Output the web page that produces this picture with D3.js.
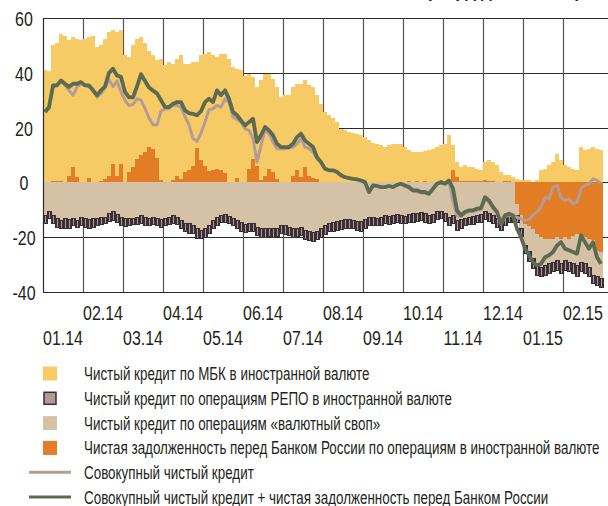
<!DOCTYPE html>
<html>
<head>
<meta charset="utf-8">
<script src="https://cdn.jsdelivr.net/npm/d3@7"></script>
<style>
  html, body { margin: 0; padding: 0; background: #fff; }
  svg { display: block; }
  text { font-family: "Liberation Sans", Arial, sans-serif; fill: #231f20; }
</style>
</head>
<body>
<div id="chart"></div>
<script>
// month labels (ten readings per month, Jan 2014 - Feb 2015)
const months = ["01.14", "02.14", "03.14", "04.14", "05.14", "06.14", "07.14",
                "08.14", "09.14", "10.14", "11.14", "12.14", "01.15", "02.15"];

// net interbank credit in foreign currency (yellow)
const mbk = [
  40.7, 40.2, 49.5, 50.5, 53.5, 53.3, 49.5, 47.5, 50.4, 51.8,
  52.1, 51.5, 53.3, 49.1, 49.5, 51.1, 52.5, 48.7, 52.5, 48.7,
  46.2, 41.9, 44.4, 43.8, 43.1, 40, 35.1, 34.1, 35.5, 44.3,
  42.5, 43.8, 42.6, 42.5, 45.1, 39.5, 38.9, 38, 31.5, 38.4,
  41, 43.6, 42, 40.7, 42.6, 43.5, 44.8, 41.8, 39.9, 41,
  39, 34.9, 29.8, 28.8, 36.2, 37.2, 34.7, 34, 33.5, 31,
  31.8, 31.8, 32.3, 31.6, 34, 31.6, 32.9, 33.2, 30.5, 28.5,
  25.7, 24.5, 23.5, 22, 19.6, 19, 18.4, 18.1, 17.8, 17.2,
  16.5, 15.3, 14.5, 14.1, 13.5, 12.9, 13.5, 14.1, 14.1, 14.1,
  12.6, 11.2, 10.7, 10.5, 10.7, 10.8, 11.4, 12.3, 12.9, 13.5,
  14.1, 17.2, 8.8, 5.4, 5.1, 5.7, 5.1, 5.1, 4.5, 3.9,
  6.4, 7.5, 6.9, 5.9, 3.5, 2.1, 2.1, 1.6, 1.3, 0.7,
  0.7, 0.7, 0.2, 0.7, 4.4, 5, 6.2, 7.4, 10.5, 8,
  6.2, 5.6, 5, 4.4, 12.9, 11.7, 12.3, 12.9, 12.3, 11.7
];

// net debt to the Bank of Russia (orange)
const cbr = [
  0.3, 0.3, 0.5, 0.5, 0.5, 0.3, 2.5, 5.5, 2, 0.2,
  0.3, 1.5, 0.3, 0.3, 0.5, 1.3, 2.5, 6.8, 2.5, 6.8,
  0.2, 3.8, 5.6, 8.6, 9.9, 11, 12.9, 12.3, 9, 0.7,
  0.2, 0.2, 0.7, 2.5, 1.3, 3.8, 4.4, 6, 12.5, 8,
  6, 4, 4.4, 5, 4.4, 3.5, 0.2, 0.2, 1.6, 0,
  0, 4.8, 8.6, 6, 1, 2.5, 5, 3.8, 1.3, 0,
  0, 0, 2.5, 4.4, 2, 5.6, 2.5, 1.6, 1.3, 0.2,
  0, 0, 0, 0, 0, 0, 0, 0, 0, 0,
  0, 0, 0, 0, 0, 0, 0, 0, 0, 0,
  0.3, 0.5, 0.3, 0.5, 0.3, 0.5, 0.3, 0, 0, 0,
  0, 0, 4.7, 2, 0.5, 0.5, 0.5, 0.5, 0.5, 0.5,
  1, 0.5, 0.5, 0.3, 0.3, 0.5, 0.5, 0.3, -8, -12,
  -15, -16, -17, -19, -20, -20.5, -20.5, -20.5, -20, -20.5,
  -20, -20.5, -19.5, -19, -20.5, -20, -20.5, -21, -25, -25.5
];

// net credit via FX swaps (beige)
const swap = [
  -12, -10.8, -12, -13.3, -13.9, -13.3, -13.5, -13.3, -13.9, -12.7,
  -13.3, -13.5, -13.3, -13, -12.7, -12.7, -11.4, -10.8, -11.8, -12.7,
  -13.3, -13.3, -13, -12.7, -12, -12.7, -13, -12.7, -13, -13.5,
  -13, -12.7, -12, -12.7, -13.9, -15.1, -15.1, -15.7, -16.9, -17.5,
  -16.9, -15.7, -13.9, -12.7, -12, -11.8, -12.4, -13, -13.9, -14.7,
  -15.5, -15.1, -15.1, -16.3, -16.9, -16.9, -16.7, -16.9, -16.7, -15.7,
  -15.9, -16.3, -16.9, -16.7, -16.3, -17.5, -18.1, -18.4, -17.9, -16.9,
  -15.7, -15.1, -14.5, -14.2, -13.9, -13.5, -13.5, -13.9, -14.2, -14.2,
  -13.5, -12.7, -12.7, -13, -12.7, -12, -12.4, -12, -11.8, -12,
  -12.3, -11.8, -11.4, -11.4, -11.1, -11.4, -12, -11.8, -10.8, -10.6,
  -11.4, -12.7, -12, -13.9, -13.5, -13, -12.7, -12.4, -12, -11.6,
  -10.8, -11.4, -12, -13.3, -14.5, -12.7, -11.8, -12, -4, -4.9,
  -8, -9.4, -10.9, -11.3, -10.9, -9.8, -9.2, -8.6, -8.5, -9.2,
  -8.5, -8.6, -10.2, -11.3, -8.6, -9.7, -10.4, -12.9, -9.5, -9.7
];

// net credit via REPO in foreign currency (dark hatched)
const repo = [
  -3, -2.4, -3, -3, -3, -3.6, -3.2, -2.4, -2.4, -3,
  -3, -3.4, -3, -2.9, -2.8, -2.4, -2.8, -3, -2.7, -3,
  -2.7, -2.4, -2.4, -2.8, -3, -3, -2.7, -2.8, -2.7, -2.8,
  -2.7, -2.8, -3, -2.8, -3, -3, -3.6, -3, -3.7, -3.1,
  -3.1, -3, -3, -3, -2.7, -2.7, -2.7, -2.9, -3, -3.2,
  -2.9, -3, -3, -3, -3.1, -3.1, -2.9, -3.1, -2.9, -3,
  -3.2, -3, -3.1, -2.9, -3, -3.3, -3.1, -3.1, -2.9, -3.1,
  -3.4, -3, -3.4, -3.3, -3.3, -3.4, -3.4, -3, -3.3, -3.7,
  -3.4, -3.2, -3, -2.9, -3, -3.1, -3.1, -3.1, -2.9, -3.1,
  -2.8, -2.7, -3.1, -2.8, -2.8, -3.1, -3.1, -2.9, -2.7, -2.7,
  -2.8, -3, -3.1, -3.6, -3.4, -2.9, -2.8, -2.9, -2.8, -2.9,
  -2.7, -2.8, -3, -3, -3, -3, -2.7, -2.7, -2.7, -3,
  -3, -3.6, -3.6, -3.6, -3.6, -3.6, -3.6, -3.6, -3.6, -3.6,
  -3.6, -3.6, -3.6, -3.9, -3.6, -3.6, -3.6, -3, -3, -3
];

// total net credit (pink line)
const total = [
  25.7, 26.9, 34.8, 35.4, 37.2, 35.4, 33.6, 31.8, 34.8, 36,
  35.4, 34.8, 34.2, 31.1, 32.4, 34.5, 37.5, 35, 37, 33,
  30, 28, 28.5, 30.5, 30, 27, 23.5, 21, 21, 26,
  26.9, 26.9, 28.1, 28.1, 27.5, 24, 21, 16, 15, 18,
  22, 26.5, 26.9, 28.1, 27.5, 30.5, 29.3, 23.8, 23, 22,
  19.6, 19, 16, 7.4, 13.5, 19, 17.8, 14.7, 12.3, 12.3,
  12.3, 12.5, 12.9, 14.1, 15.9, 12.9, 12.3, 11.1, 8.6, 7.4,
  5, 4.4, 4.4, 3.8, 2.6, 1.9, 1.6, 1.3, 1.1, 0.7,
  0.1, -3.5, -1.1, -1.3, -1.7, -1.7, -1.3, -1.7, -0.9, -0.5,
  -1.4, -2.2, -3.2, -3.4, -3.8, -4, -4.4, -2.3, -0.5, 0.1,
  -0.5, 0.7, -7, -12.2, -12.5, -11.3, -10.7, -10.7, -10.1, -9.9,
  -6.4, -7.1, -9.5, -11.1, -15.4, -12.5, -11.9, -12.3, -12.7, -13.3,
  -13.9, -13.5, -12, -10.8, -9, -5.4, -6, -1.7, -1.1, -5.4,
  -6.6, -6, -7.8, -7.2, -2.3, -1.1, -0.5, 1.3, 0.7, -0.5
];

// total net credit + net debt to the Bank of Russia (green line)
const totalCbr = [
  25.7, 27.5, 35.4, 35.4, 37.2, 36, 34.8, 36, 36, 36.6,
  35.4, 35.4, 33.6, 31.8, 33.6, 35, 40, 41.5, 39, 38.5,
  33, 31, 31, 35, 39.5, 37, 34.6, 33.5, 32.5, 30,
  27.5, 27.5, 28.7, 29.3, 29.3, 26.3, 25.3, 25, 24.5, 26,
  29.3, 30.5, 29.3, 33.6, 31.8, 33.6, 30.5, 25.7, 24.5, 22.6,
  20.8, 22, 23.2, 14.7, 17.2, 20.2, 19, 17.2, 14.1, 12.9,
  12.9, 12.9, 14.1, 16.5, 17.8, 15.3, 14.1, 12.9, 9.2, 7.4,
  5, 4.4, 4.4, 3.8, 2.6, 1.9, 1.6, 1.3, 1.1, 0.7,
  0.1, -3.5, -1.1, -1.3, -1.7, -1.7, -1.3, -1.7, -0.9, -0.5,
  -1.1, -1.7, -2.9, -2.9, -3.5, -3.5, -4.1, -2.3, -0.5, 0.1,
  -0.5, 0.7, -2.3, -10.2, -12, -10.8, -10.2, -10.2, -9.6, -9.4,
  -5.4, -6.6, -9, -10.8, -15.1, -12, -11.4, -12, -16.9, -20,
  -24.2, -26.6, -29.1, -30.3, -29.7, -27.3, -26.6, -25.4, -23, -21.8,
  -24.2, -24.8, -25.4, -26, -19.3, -21.8, -24.2, -21.8, -27.3, -29.7
];

const legendLabels = [
  "Чистый кредит по МБК в иностранной валюте",
  "Чистый кредит по операциям РЕПО в иностранной валюте",
  "Чистый кредит по операциям «валютный своп»",
  "Чистая задолженность перед Банком России по операциям в иностранной валюте",
  "Совокупный чистый кредит",
  "Совокупный чистый кредит + чистая задолженность перед Банком России"
];

var colors = {
    mbk: '#f6cb65',
    repo: '#b09b98',
    swap: '#d5c1a6',
    cbr: '#e27c25',
    total: '#b49b97',
    totalCbr: '#5b6a51',
    dark: '#3a2f35'
};

var svg = d3.select('#chart')
    .append('svg')
    .attr('width', 608)
    .attr('height', 506);

// no narrow font is installed, so text is squeezed horizontally
function narrowText(parent, x, y, str, size, anchor, squeeze) {
    return parent.append('text')
        .attr('transform', 'translate(' + x + ',' + y + ') scale(' + squeeze + ',1)')
        .style('font-size', size + 'px')
        .style('text-anchor', anchor)
        .text(str);
}

function widthOf(str, size) {
    var t = svg.append('text').style('font-size', size + 'px').text(str);
    var w = t.node().getComputedTextLength();
    t.remove();
    return w;
}

var axisSqueeze = 40 / widthOf('02.14', 21);
var legendSqueeze = 516 / widthOf(legendLabels[3], 18.5);

// hatch for the REPO bars
var pat = svg.append('defs').append('pattern')
    .attr('id', 'repoHatch')
    .attr('patternUnits', 'userSpaceOnUse')
    .attr('width', 2)
    .attr('height', 4);
pat.append('rect').attr('width', 2).attr('height', 4).attr('fill', colors.repo);
pat.append('rect').attr('width', 1).attr('height', 4).attr('fill', colors.dark);

var x = d3.scaleBand()
    .domain(d3.range(mbk.length))
    .range([43, 603]);

var xm = d3.scaleBand()
    .domain(months)
    .range([43, 603]);

var y = d3.scaleLinear()
    .domain([-40, 60])
    .range([292, 18]);

// title (cropped at the top of the picture)
narrowText(svg, 426, -4, '(млрд долл. США)', 22, 'start', 0.78)
    .style('font-weight', 'bold');

// grid
var grid = svg.append('g');
grid.selectAll('line.h')
    .data(y.ticks(5))
    .enter()
    .append('line')
    .attr('x1', 43)
    .attr('x2', 608)
    .attr('y1', d => Math.round(y(d)) + 0.5)
    .attr('y2', d => Math.round(y(d)) + 0.5)
    .style('stroke', '#2b2b2b')
    .style('stroke-width', 1);

grid.selectAll('line.v')
    .data(months.slice(1))
    .enter()
    .append('line')
    .attr('x1', d => xm(d) + 0.5)
    .attr('x2', d => xm(d) + 0.5)
    .attr('y1', 18)
    .attr('y2', 292)
    .style('stroke', '#555')
    .style('stroke-width', 1.2);

// stacked bars
var rows = mbk.map((v, i) => ({ i: i, cbr: cbr[i], mbk: v, swap: swap[i], repo: repo[i] }));
var series = d3.stack()
    .keys(['cbr', 'mbk', 'swap', 'repo'])
    .offset(d3.stackOffsetDiverging)(rows);

var bars = svg.append('g');
series.forEach(function(s) {
    var isRepo = s.key === 'repo';
    bars.append('g')
        .selectAll('rect')
        .data(s)
        .enter()
        .append('rect')
        .attr('x', d => x(d.data.i))
        .attr('width', x.bandwidth())
        .attr('y', d => y(Math.max(d[0], d[1])))
        .attr('height', d => Math.abs(y(d[0]) - y(d[1])))
        .attr('shape-rendering', 'crispEdges')
        .style('fill', isRepo ? 'url(#repoHatch)' : colors[s.key])
        .style('stroke', isRepo ? colors.dark : 'none')
        .style('stroke-width', isRepo ? 1 : 0);
});

// lines
var line = d3.line()
    .x((d, i) => x(i) + x.bandwidth() / 2)
    .y(d => y(d));

svg.append('path')
    .datum(total)
    .attr('d', line)
    .style('fill', 'none')
    .style('stroke', colors.total)
    .style('stroke-width', 3)
    .style('stroke-linejoin', 'round');

svg.append('path')
    .datum(totalCbr)
    .attr('d', line)
    .style('fill', 'none')
    .style('stroke', colors.totalCbr)
    .style('stroke-width', 3.8)
    .style('stroke-linejoin', 'round');

// left axis line
svg.append('line')
    .attr('x1', 43.5).attr('x2', 43.5)
    .attr('y1', 18).attr('y2', 292)
    .style('stroke', '#2b2b2b')
    .style('stroke-width', 1.2);

// y tick labels
var yLabels = svg.append('g');
y.ticks(5).forEach(function(v) {
    narrowText(yLabels, 24, y(v) + 8, v, 21, 'middle', axisSqueeze);
});

// x labels, two staggered rows
var xLabels = svg.append('g');
months.forEach(function(m, i) {
    narrowText(xLabels, xm(m) + xm.bandwidth() / 2, i % 2 ? 320 : 345, m, 21, 'middle', axisSqueeze);
});

// legend
var legendKinds = ['mbk', 'repo', 'swap', 'cbr', 'total', 'totalCbr'];
var legend = svg.append('g')
    .selectAll('g')
    .data(legendLabels)
    .enter()
    .append('g')
    .attr('transform', (d, i) => 'translate(0,' + (373 + i * 24.8) + ')');

legend.each(function(d, i) {
    var g = d3.select(this);
    var k = legendKinds[i];
    if (i < 4) {
        g.append('rect')
            .attr('x', k === 'repo' ? 44 : 43)
            .attr('y', k === 'repo' ? -5.5 : -6.5)
            .attr('width', k === 'repo' ? 12 : 14)
            .attr('height', k === 'repo' ? 12 : 14)
            .style('fill', colors[k])
            .style('stroke', k === 'repo' ? colors.dark : 'none')
            .style('stroke-width', 1.5);
    } else {
        g.append('line')
            .attr('x1', 29).attr('x2', 71)
            .attr('y1', 0).attr('y2', 0)
            .style('stroke', colors[k])
            .style('stroke-width', 3);
    }
    narrowText(g, 84, 7, d, 18.5, 'start', legendSqueeze);
});
</script>
</body>
</html>
